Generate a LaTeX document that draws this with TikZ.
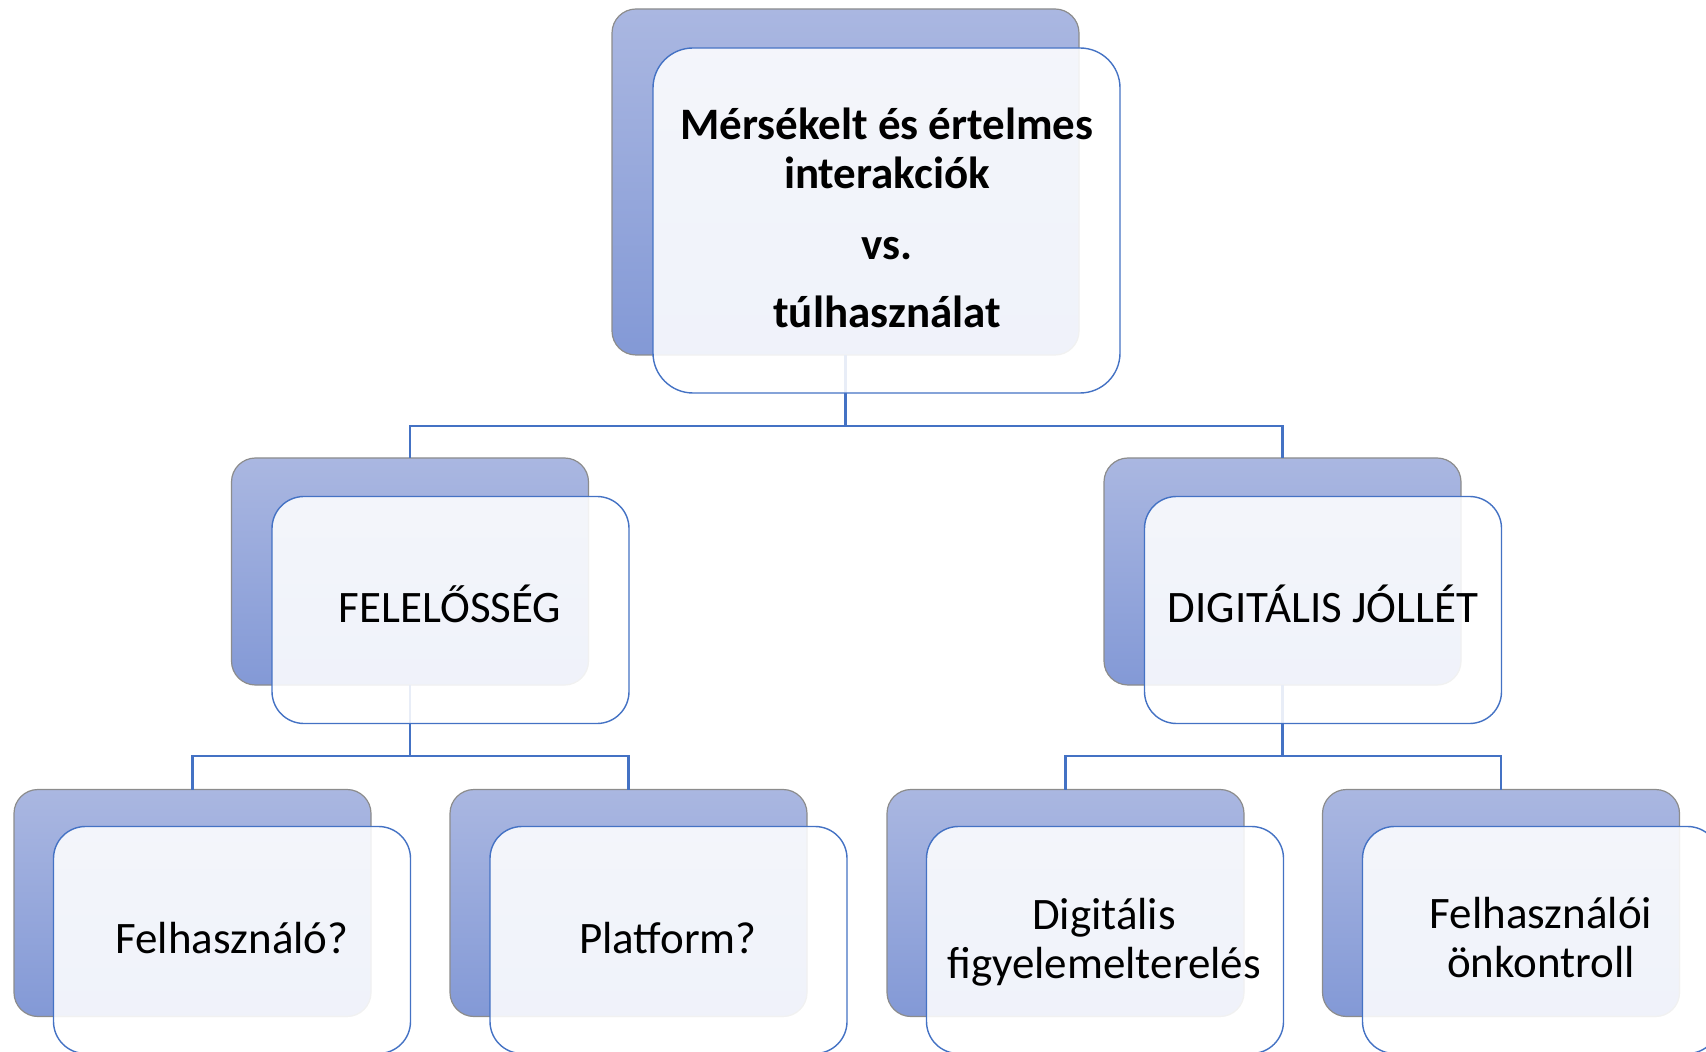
\documentclass[tikz,border=0pt]{standalone}
\usepackage{fontspec}
\setmainfont{Carlito}
\definecolor{accent}{RGB}{68,114,196}
\definecolor{backtop}{RGB}{170,183,225}
\definecolor{backbot}{RGB}{131,153,214}
\definecolor{frontfill}{RGB}{255,255,255}
\begin{document}
\begin{tikzpicture}[x=0.5pt,y=-0.5pt,
  backbox/.style={draw=black!45, line width=0.6pt, rounded corners=12pt,
    top color=backtop, bottom color=backbot, inner sep=0pt, outer sep=0pt},
  frontbox/.style={draw=accent, line width=0.7pt, rounded corners=16pt,
    fill=frontfill, fill opacity=0.88, text opacity=1, inner sep=0pt, outer sep=0pt},
  smallsize/.style={minimum width=178.5pt, minimum height=113.5pt},
  conn/.style={draw=accent, line width=1.3pt},
  lbl/.style={font=\fontsize{22.5}{24.5}\selectfont, align=center, inner sep=0pt, text=black}
]
\useasboundingbox (0,0) rectangle (1706,1052);
\clip (0,0) rectangle (1706,1052);

% back panels
\node[backbox, minimum width=233.5pt, minimum height=173pt] (topB) at (845.5,182) {};
\node[backbox, smallsize] (leftB)  at (410,571.5) {};
\node[backbox, smallsize] (rightB) at (1282.5,571.5) {};
\node[backbox, smallsize] (llB) at (192.5,903) {};
\node[backbox, smallsize] (lrB) at (628.5,903) {};
\node[backbox, smallsize] (rlB) at (1065.5,903) {};
\node[backbox, smallsize] (rrB) at (1501,903) {};

% tree connectors
\coordinate (j0) at (845.5,426);
\coordinate (j1) at (410,756);
\coordinate (j2) at (1282.5,756);
\draw[conn] (topB.south) -- (j0) -| (leftB.north);
\draw[conn] (j0) -| (rightB.north);
\draw[conn] (leftB.south) -- (j1) -| (llB.north);
\draw[conn] (j1) -| (lrB.north);
\draw[conn] (rightB.south) -- (j2) -| (rlB.north);
\draw[conn] (j2) -| (rrB.north);

% front panels
\node[frontbox, rounded corners=20pt, minimum width=233.5pt, minimum height=172.5pt] (topF) at (886.5,220.5) {};
\node[frontbox, smallsize] (leftF)  at (450.5,610) {};
\node[frontbox, smallsize] (rightF) at (1323,610) {};
\node[frontbox, smallsize] (llF) at (232,940) {};
\node[frontbox, smallsize] (lrF) at (668.5,940) {};
\node[frontbox, smallsize] (rlF) at (1105,940) {};
\node[frontbox, smallsize] (rrF) at (1541,940) {};

% labels
\node[lbl, font=\bfseries\fontsize{22.5}{24.5}\selectfont] (topT) at (887,218)
  {Mérsékelt és értelmes\\interakciók\\[11pt]vs.\\[9.5pt]túlhasználat};
\node[lbl, anchor=base] (leftT)  at (450,623) {FELELŐSSÉG};
\node[lbl, anchor=base] (rightT) at (1323,623) {DIGITÁLIS JÓLLÉT};
\node[lbl, anchor=base] (llT) at (232,953) {Felhasználó?};
\node[lbl, anchor=base] (lrT) at (668,953) {Platform?};
\node[lbl] (rlT) at (1104,942) {Digitális\\figyelemelterelés};
\node[lbl] (rrT) at (1541,938) {Felhasználói\\önkontroll};
\end{tikzpicture}
\end{document}
